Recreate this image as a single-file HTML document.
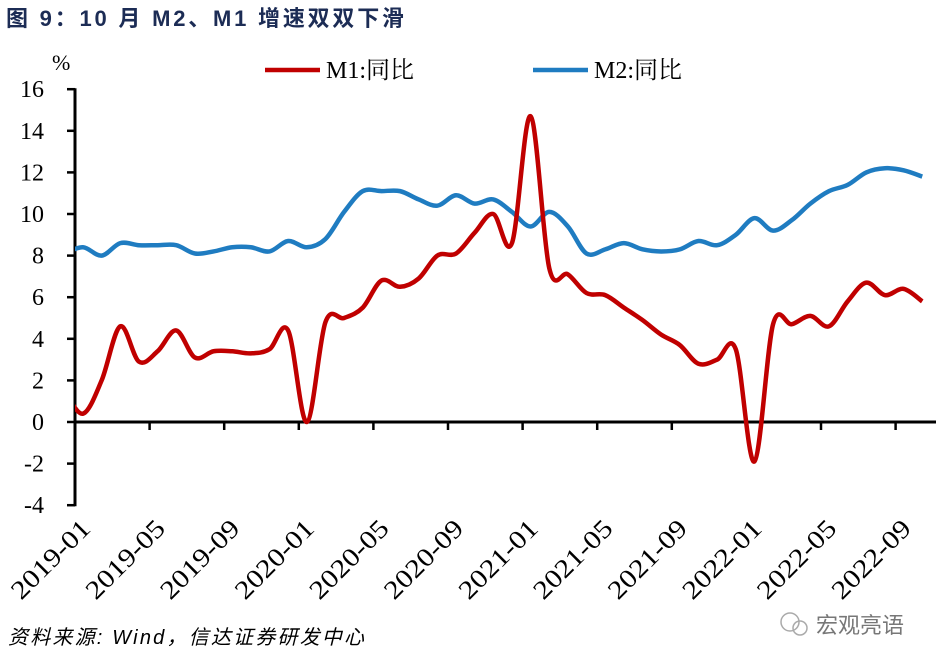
<!DOCTYPE html>
<html><head><meta charset="utf-8"><style>
body{margin:0;background:#fff;}
svg{display:block;font-family:"Liberation Serif","Noto Serif CJK SC",serif;}
</style></head><body>
<svg id="chart" width="936" height="664" viewBox="0 0 936 664">
<text x="6" y="26" font-family="'Liberation Sans','Noto Sans CJK SC',sans-serif" font-weight="bold" font-size="22" fill="#1c2c55" textLength="398" lengthAdjust="spacing">图 9：10 月 M2、M1 增速双双下滑</text>
<text x="52" y="70" font-size="22">%</text>
<g>
<line x1="265" y1="70" x2="320" y2="70" stroke="#c00000" stroke-width="4.5"/>
<text x="326" y="78" font-size="24">M1:同比</text>
<line x1="533" y1="70" x2="588" y2="70" stroke="#1f7cc1" stroke-width="4.5"/>
<text x="594" y="78" font-size="24">M2:同比</text>
</g>
<defs><clipPath id="pc"><rect x="75" y="60" width="861" height="460"/></clipPath></defs>
<g id="axes"></g>
<g id="series" clip-path="url(#pc)"></g>
<text x="8" y="644" font-size="20" font-style="italic" font-family="'Liberation Sans','Noto Sans CJK SC',sans-serif" textLength="356" lengthAdjust="spacing">资料来源: Wind，信达证券研发中心</text>
<g>
<circle cx="790" cy="622" r="9" fill="none" stroke="#aaa" stroke-width="1.5"/>
<circle cx="800" cy="628" r="7" fill="none" stroke="#aaa" stroke-width="1.5"/>
<text x="816" y="633" font-size="22" fill="#777" font-family="'Liberation Sans','Noto Sans CJK SC',sans-serif">宏观亮语</text>
</g>
</svg>
<script>
const yTicks=[16,14,12,10,8,6,4,2,0,-2,-4];
const xLabels=["2019-01","2019-05","2019-09","2020-01","2020-05","2020-09","2021-01","2021-05","2021-09","2022-01","2022-05","2022-09"];
// months from 2018-12 to 2022-10
const m1=[1.5,0.4,2.0,4.6,2.9,3.4,4.4,3.1,3.4,3.4,3.3,3.5,4.4,0.0,4.8,5.0,5.5,6.8,6.5,6.9,8.0,8.1,9.1,10.0,8.6,14.7,7.4,7.1,6.2,6.1,5.5,4.9,4.2,3.7,2.8,3.0,3.5,-1.9,4.7,4.7,5.1,4.6,5.8,6.7,6.1,6.4,5.8];
const m2=[8.1,8.4,8.0,8.6,8.5,8.5,8.5,8.1,8.2,8.4,8.4,8.2,8.7,8.4,8.8,10.1,11.1,11.1,11.1,10.7,10.4,10.9,10.5,10.7,10.1,9.4,10.1,9.4,8.1,8.3,8.6,8.3,8.2,8.3,8.7,8.5,9.0,9.8,9.2,9.7,10.5,11.1,11.4,12.0,12.2,12.1,11.8];
const NS="http://www.w3.org/2000/svg";
const X0=75,MW=18.65,Y0=422,YU=20.8;
const x=i=>X0+MW*(i-1)+8;
const tx=k=>X0+MW*4*k;
const y=v=>Y0-v*YU;
function mk(t,a,p){const e=document.createElementNS(NS,t);for(const k in a)e.setAttribute(k,a[k]);p.appendChild(e);return e;}
const ax=document.getElementById('axes');
const yA=mk('line',{x1:X0,y1:y(16)-1,x2:X0,y2:y(-4)+1,stroke:'#000','stroke-width':3},ax);


const xA=mk('line',{x1:X0,y1:Y0,x2:936,y2:Y0,stroke:'#000','stroke-width':3},ax);


yTicks.forEach(v=>{
 mk('line',{x1:X0-8,y1:y(v),x2:X0,y2:y(v),stroke:'#000','stroke-width':2.5},ax);
 const t=mk('text',{x:44,y:y(v)+8,'text-anchor':'end','font-size':24},ax);
 t.textContent=v;
 
 
});
xLabels.forEach((l,k)=>{
 const px=tx(k);
 if(k>0)mk('line',{x1:px,y1:Y0,x2:px,y2:Y0+8,stroke:'#000','stroke-width':2.5},ax);
 const ox=px+17,oy=530;
 const t=mk('text',{x:ox,y:oy,'text-anchor':'end','font-size':26,textLength:100,lengthAdjust:'spacingAndGlyphs',transform:`rotate(-45 ${ox} ${oy})`},ax);
 t.textContent=l;
 
 
});
function path(d){
 const p=d.map((v,i)=>[x(i),y(v)]);
 let s=`M${p[0][0]},${p[0][1]}`;
 for(let i=0;i<p.length-1;i++){
  const a=p[i-1]||p[i],b=p[i],c=p[i+1],e=p[i+2]||c;
  s+=` C${b[0]+(c[0]-a[0])/6},${b[1]+(c[1]-a[1])/6} ${c[0]-(e[0]-b[0])/6},${c[1]-(e[1]-b[1])/6} ${c[0]},${c[1]}`;
 }
 return s;
}
const sg=document.getElementById('series');
const l2=mk('path',{d:path(m2),fill:'none',stroke:'#1f7cc1','stroke-width':4.5,'stroke-linejoin':'round'},sg);


const l1=mk('path',{d:path(m1),fill:'none',stroke:'#c00000','stroke-width':4.5,'stroke-linejoin':'round'},sg);


</script>
</body></html>
